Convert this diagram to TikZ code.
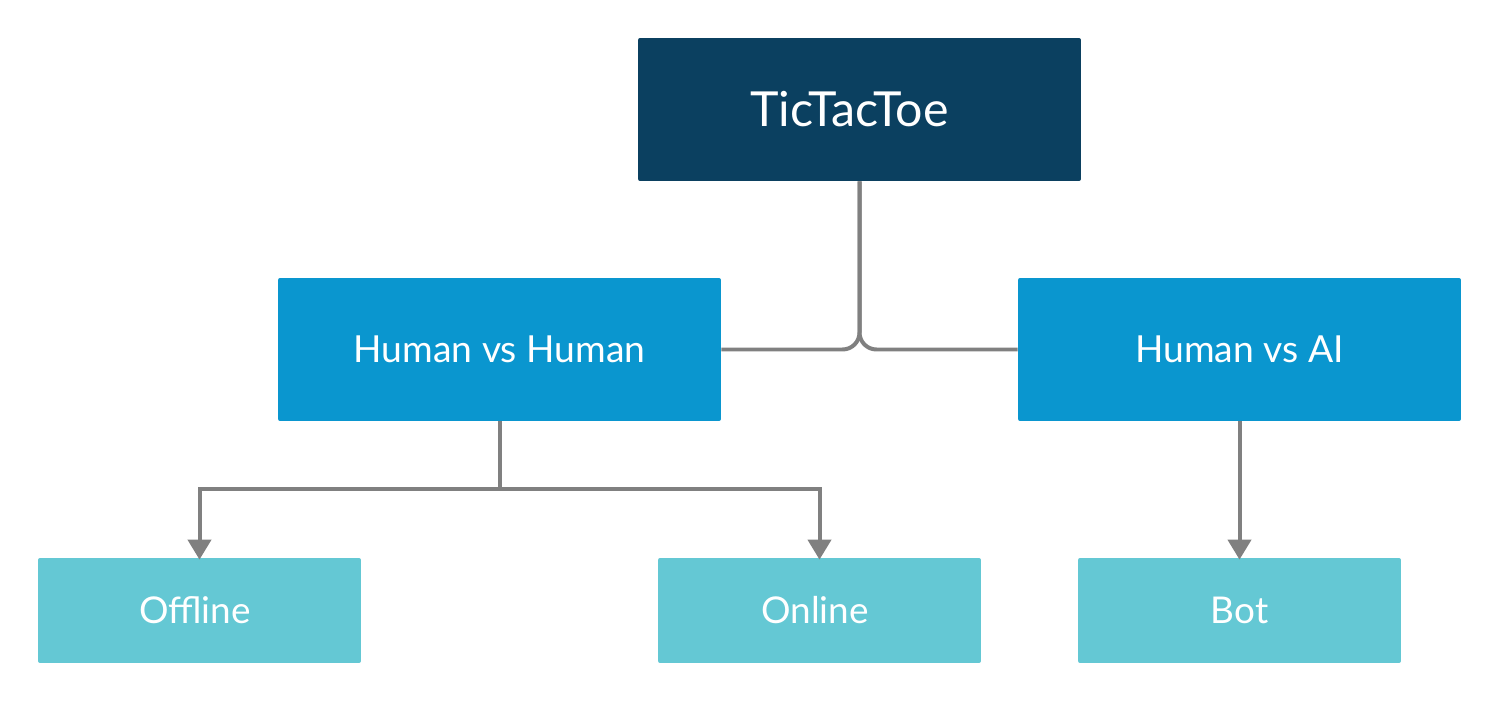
\documentclass[tikz,border=0pt]{standalone}
\usepackage{fontspec}
\setmainfont{Lato}
\usetikzlibrary{arrows.meta,calc}
\definecolor{cdark}{HTML}{0B4060}
\definecolor{cmid}{HTML}{0A96CF}
\definecolor{clight}{HTML}{64C8D4}
\definecolor{cline}{HTML}{808080}
\tikzset{
  box/.style={rectangle, rounded corners=0.04cm, inner sep=0pt, text=white, align=center},
  topbox/.style={box, fill=cdark, minimum width=8.86cm, minimum height=2.86cm, font=\fontsize{27.5}{30}\selectfont},
  midbox/.style={box, fill=cmid, minimum width=8.86cm, minimum height=2.86cm, font=\fontsize{21.2}{24}\selectfont},
  lowbox/.style={box, fill=clight, minimum width=6.46cm, minimum height=2.1cm, font=\fontsize{21}{24}\selectfont},
  conn/.style={draw=cline, line width=0.08cm},
  arr/.style={conn, -{Triangle[width=0.46cm,length=0.4cm]}}
}
\begin{document}
\begin{tikzpicture}[x=0.02cm,y=-0.02cm]
\useasboundingbox (0,0) rectangle (1500,702);
\node[topbox] (top) at (859.5,109.5) {TicTacToe\hspace*{0.4cm}};
\node[midbox] (hh) at (499.5,349.5) {Human vs Human};
\node[midbox] (ha) at (1239.5,349.5) {Human vs AI};
\node[lowbox] (off) at (199.5,610.5) {Offline\hspace*{0.18cm}};
\node[lowbox] (on) at (819.5,610.5) {Online\hspace*{0.18cm}};
\node[lowbox] (bot) at (1239.5,610.5) {Bot};
\draw[conn, rounded corners=0.34cm] (top.south) |- (hh.east);
\draw[conn, rounded corners=0.34cm] (top.south) |- (ha.west);
\coordinate (j) at ($(hh.south)+(0,68)$);
\draw[conn] (hh.south) -- (j);
\draw[arr] (j) -| ([yshift=-0.04cm]off.north);
\draw[arr] (j) -| ([yshift=-0.04cm]on.north);
\draw[arr] (ha.south) -- ([yshift=-0.04cm]bot.north);
\end{tikzpicture}
\end{document}
